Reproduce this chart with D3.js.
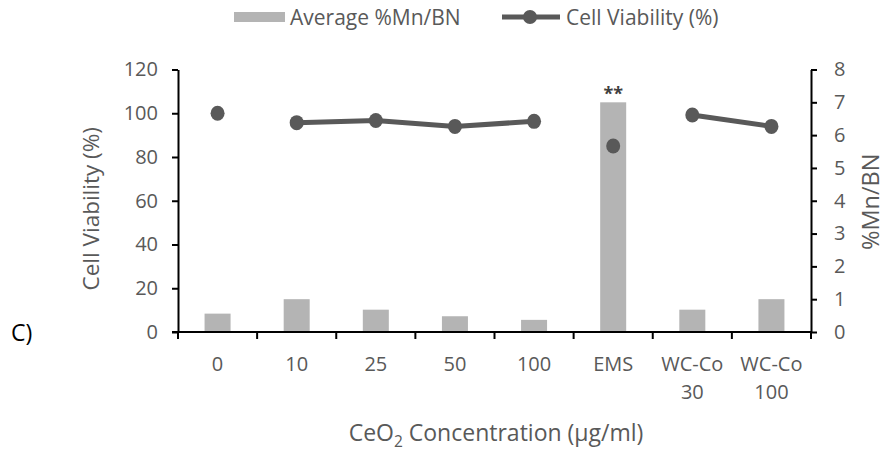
<!DOCTYPE html>
<html>
<head>
<meta charset="utf-8">
<script src="https://cdn.jsdelivr.net/npm/d3@7"></script>
<style>
  body { margin: 0; background: #fff; }
  text { font-family: "Open Sans", sans-serif; }
</style>
</head>
<body>
<div id="chart"></div>
<script>
// data
const categories = ["0", "10", "25", "50", "100", "EMS", "WC-Co 30", "WC-Co 100"];
const mnbn = [0.56, 1.0, 0.68, 0.48, 0.37, 7.0, 0.68, 1.0];        // right axis
const viability = [100, 95.7, 96.7, 94.0, 96.3, 85.0, 99.2, 94.0];   // left axis
const lineGroup = [0, 1, 1, 1, 1, 2, 3, 3];   // which points are joined by the line
const leftTicks = [0, 20, 40, 60, 80, 100, 120];
const rightTicks = [0, 1, 2, 3, 4, 5, 6, 7, 8];

const W = 887, H = 454;
const plotL = 178, plotR = 811, plotT = 69.5, plotB = 332;
const grey = "#595959", barFill = "#b4b4b4";
const tickFont = 20;

const svg = d3.select("#chart").append("svg")
  .attr("width", W).attr("height", H);

const x = d3.scaleBand().domain(categories).range([plotL, plotR]);
const yL = d3.scaleLinear().domain([0, 120]).range([plotB, plotT]);
const yR = d3.scaleLinear().domain([0, 8]).range([plotB, plotT]);

const rows = categories.map((c, i) => ({ c, bar: mnbn[i], v: viability[i], g: lineGroup[i] }));

// bars
const bw = 26;
svg.selectAll("rect.bar")
  .data(rows)
  .join("rect")
    .attr("class", "bar")
    .attr("x", d => x(d.c) + x.bandwidth() / 2 - bw / 2)
    .attr("y", d => yR(d.bar))
    .attr("width", bw)
    .attr("height", d => plotB - yR(d.bar))
    .attr("fill", barFill);

// significance mark
svg.append("text")
  .attr("x", x("EMS") + x.bandwidth() / 2)
  .attr("y", yR(7.0) - 2)
  .attr("text-anchor", "middle")
  .attr("font-size", 18)
  .attr("font-weight", "bold")
  .attr("fill", "#404040")
  .text("**");

// axes
const axisStyle = g => {
  g.selectAll("path, line").attr("stroke", "#000").attr("stroke-width", 2);
  g.selectAll("text").attr("fill", grey).attr("font-size", tickFont)
    .style("font-family", "'Open Sans', sans-serif");
};

svg.append("g")
  .attr("transform", `translate(${plotL},0)`)
  .call(d3.axisLeft(yL).tickValues(leftTicks).tickSize(6).tickSizeOuter(0).tickPadding(14))
  .call(axisStyle);

svg.append("g")
  .attr("transform", `translate(${plotR},0)`)
  .call(d3.axisRight(yR).tickValues(rightTicks).tickSize(6).tickSizeOuter(0).tickPadding(17))
  .call(axisStyle);

// x axis: ticks at band edges
const xg = svg.append("g").attr("transform", `translate(0,${plotB})`);
xg.append("line").attr("x1", plotL - 6).attr("x2", plotR).attr("stroke", "#000").attr("stroke-width", 2);
xg.selectAll("line.tk")
  .data(categories.concat([null]))
  .join("line")
    .attr("class", "tk")
    .attr("x1", (d, i) => plotL + i * x.step())
    .attr("x2", (d, i) => plotL + i * x.step())
    .attr("y1", 0).attr("y2", 7)
    .attr("stroke", "#000").attr("stroke-width", 2);
xg.selectAll("text.lbl")
  .data(categories)
  .join("text")
    .attr("class", "lbl")
    .attr("x", d => x(d) + x.bandwidth() / 2)
    .attr("y", 39)
    .attr("text-anchor", "middle")
    .attr("fill", grey)
    .attr("font-size", tickFont)
    .each(function(d) {
      const parts = d.split(" ");
      d3.select(this).selectAll("tspan").data(parts).join("tspan")
        .attr("x", x(d) + x.bandwidth() / 2)
        .attr("dy", (p, i) => i ? 28 : 0)
        .text(p => p);
    });

// line (broken into groups)
const line = d3.line().x(d => x(d.c) + x.bandwidth() / 2).y(d => yL(d.v));
const groups = d3.groups(rows, d => d.g);
svg.selectAll("path.vline")
  .data(groups.filter(g => g[1].length > 1))
  .join("path")
    .attr("class", "vline")
    .attr("d", g => line(g[1]))
    .attr("fill", "none")
    .attr("stroke", grey)
    .attr("stroke-width", 5);
svg.selectAll("ellipse.pt")
  .data(rows)
  .join("ellipse")
    .attr("class", "pt")
    .attr("cx", d => x(d.c) + x.bandwidth() / 2)
    .attr("cy", d => yL(d.v))
    .attr("rx", 7).attr("ry", 7.5)
    .attr("fill", grey);

// axis titles
svg.append("text")
  .attr("transform", `translate(99,${(plotT + plotB) / 2 + 8}) rotate(-90)`)
  .attr("text-anchor", "middle")
  .attr("fill", grey).attr("font-size", 22.5)
  .text("Cell Viability (%)");

svg.append("text")
  .attr("transform", `translate(879,${(plotT + plotB) / 2 + 1}) rotate(-90)`)
  .attr("text-anchor", "middle")
  .attr("fill", grey).attr("font-size", 23.5)
  .text("%Mn/BN");

const xt = svg.append("text")
  .attr("x", 496).attr("y", 441)
  .attr("text-anchor", "middle")
  .attr("fill", grey).attr("font-size", 23);
xt.append("tspan").text("CeO");
xt.append("tspan").attr("font-size", 15.5).attr("dy", 6).text("2");
xt.append("tspan").attr("dy", -6).text(" Concentration (\u03bcg/ml)");

// panel label
svg.append("text")
  .attr("x", 11).attr("y", 341)
  .attr("fill", "#000").attr("font-size", 23)
  .text("C)");

// legend
const lg = svg.append("g");
lg.append("rect").attr("x", 234).attr("y", 12).attr("width", 51).attr("height", 10).attr("fill", barFill);
lg.append("text").attr("x", 290).attr("y", 25).attr("fill", grey).attr("font-size", 21).text("Average %Mn/BN");
lg.append("line").attr("x1", 502).attr("x2", 560).attr("y1", 17).attr("y2", 17)
  .attr("stroke", grey).attr("stroke-width", 5);
lg.append("ellipse").attr("cx", 530).attr("cy", 17).attr("rx", 7).attr("ry", 7).attr("fill", grey);
lg.append("text").attr("x", 566).attr("y", 25).attr("fill", grey).attr("font-size", 21).text("Cell Viability (%)");
</script>
</body>
</html>
